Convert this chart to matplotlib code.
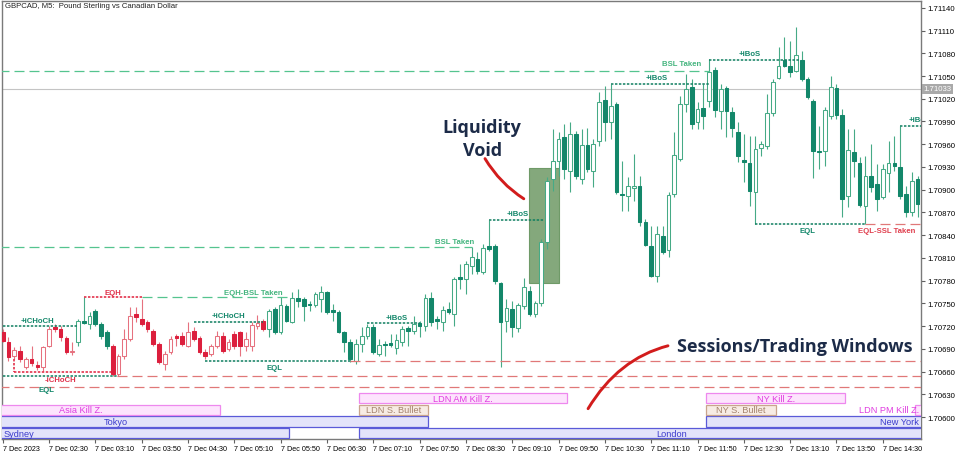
import numpy as np
import matplotlib.pyplot as plt
from matplotlib.patches import Rectangle, PathPatch
from matplotlib.path import Path
from matplotlib.transforms import blended_transform_factory

plt.rcParams['font.family'] = ['Liberation Sans', 'DejaVu Sans']

# GBPCAD M5 candles, 7 Dec 2023 from 01:50
opens = [1.70712, 1.70699, 1.70680, 1.70687, 1.70666, 1.70677, 1.70669, 1.70666, 1.70694, 1.70719,
         1.70716, 1.70704, 1.70686, 1.70699, 1.70727, 1.70723, 1.70740, 1.70723, 1.70712, 1.70694,
         1.70657, 1.70680, 1.70703, 1.70736, 1.70729, 1.70725, 1.70714, 1.70696, 1.70670, 1.70686,
         1.70707, 1.70707, 1.70694, 1.70714, 1.70704, 1.70686, 1.70683, 1.70694, 1.70707, 1.70690,
         1.70710, 1.70712, 1.70694, 1.70694, 1.70720, 1.70727, 1.70716, 1.70743, 1.70712, 1.70747,
         1.70725, 1.70757, 1.70756, 1.70749, 1.70748, 1.70756, 1.70765, 1.70741, 1.70739, 1.70712,
         1.70699, 1.70674, 1.70696, 1.70707, 1.70719, 1.70683, 1.70696, 1.70698, 1.70691, 1.70699,
         1.70717, 1.70714, 1.70724, 1.70720, 1.70757, 1.70729, 1.70725, 1.70743, 1.70736, 1.70785,
         1.70782, 1.70799, 1.70809, 1.70791, 1.70826, 1.70826, 1.70777, 1.70727, 1.70743, 1.70717,
         1.70747, 1.70766, 1.70736, 1.70750, 1.70831, 1.70914, 1.70938, 1.70970, 1.70925, 1.70974,
         1.70914, 1.70959, 1.70925, 1.70964, 1.71018, 1.70989, 1.71013, 1.70894, 1.70892, 1.70902,
         1.70905, 1.70857, 1.70826, 1.70786, 1.70839, 1.70820, 1.70894, 1.70941, 1.71013, 1.71036,
         1.70989, 1.71008, 1.71017, 1.71058, 1.71004, 1.71034, 1.71003, 1.70976, 1.70939, 1.70935,
         1.70897, 1.70955, 1.70958, 1.71001, 1.71047, 1.71071, 1.71063, 1.71057, 1.71071, 1.71046,
         1.71017, 1.70951, 1.70951, 1.70997, 1.71034, 1.70999, 1.70892, 1.70950, 1.70935, 1.70879,
         1.70918, 1.70908, 1.70890, 1.70922, 1.70935, 1.70930, 1.70894, 1.70871, 1.70914]
highs = [1.70716, 1.70706, 1.70692, 1.70694, 1.70679, 1.70694, 1.70674, 1.70694, 1.70720, 1.70723,
         1.70720, 1.70707, 1.70699, 1.70729, 1.70758, 1.70739, 1.70743, 1.70725, 1.70715, 1.70696,
         1.70683, 1.70716, 1.70745, 1.70745, 1.70756, 1.70728, 1.70716, 1.70699, 1.70687, 1.70707,
         1.70710, 1.70712, 1.70725, 1.70719, 1.70707, 1.70690, 1.70696, 1.70714, 1.70712, 1.70703,
         1.70714, 1.70714, 1.70712, 1.70725, 1.70735, 1.70729, 1.70743, 1.70745, 1.70758, 1.70749,
         1.70765, 1.70769, 1.70758, 1.70753, 1.70765, 1.70773, 1.70766, 1.70749, 1.70741, 1.70714,
         1.70703, 1.70703, 1.70719, 1.70723, 1.70723, 1.70703, 1.70700, 1.70710, 1.70710, 1.70720,
         1.70720, 1.70733, 1.70727, 1.70762, 1.70765, 1.70733, 1.70747, 1.70752, 1.70785, 1.70802,
         1.70806, 1.70824, 1.70818, 1.70828, 1.70860, 1.70828, 1.70778, 1.70756, 1.70753, 1.70750,
         1.70783, 1.70773, 1.70753, 1.70835, 1.70917, 1.70980, 1.70976, 1.70987, 1.70989, 1.70978,
         1.70980, 1.70981, 1.70967, 1.71029, 1.71037, 1.71040, 1.71016, 1.70938, 1.70917, 1.70947,
         1.70918, 1.70861, 1.70852, 1.70852, 1.70852, 1.70897, 1.70976, 1.71024, 1.71053, 1.71046,
         1.71016, 1.71040, 1.71073, 1.71062, 1.71040, 1.71037, 1.71009, 1.70989, 1.70974, 1.70971,
         1.70971, 1.70964, 1.71026, 1.71046, 1.71088, 1.71102, 1.71096, 1.71115, 1.71083, 1.71049,
         1.71020, 1.70984, 1.71009, 1.71050, 1.71040, 1.71007, 1.70980, 1.70980, 1.70943, 1.70945,
         1.70960, 1.70934, 1.70934, 1.70964, 1.70971, 1.70984, 1.70905, 1.70923, 1.70918]
lows = [1.70699, 1.70674, 1.70677, 1.70673, 1.70663, 1.70667, 1.70662, 1.70661, 1.70692, 1.70712,
        1.70700, 1.70683, 1.70682, 1.70694, 1.70723, 1.70716, 1.70720, 1.70703, 1.70690, 1.70654,
        1.70654, 1.70677, 1.70700, 1.70725, 1.70720, 1.70712, 1.70694, 1.70670, 1.70662, 1.70683,
        1.70694, 1.70694, 1.70692, 1.70700, 1.70683, 1.70677, 1.70680, 1.70691, 1.70684, 1.70687,
        1.70690, 1.70680, 1.70687, 1.70687, 1.70716, 1.70714, 1.70706, 1.70710, 1.70710, 1.70725,
        1.70724, 1.70745, 1.70727, 1.70740, 1.70745, 1.70739, 1.70736, 1.70727, 1.70711, 1.70686,
        1.70673, 1.70670, 1.70686, 1.70703, 1.70683, 1.70680, 1.70680, 1.70692, 1.70683, 1.70694,
        1.70694, 1.70710, 1.70706, 1.70714, 1.70720, 1.70716, 1.70714, 1.70736, 1.70720, 1.70769,
        1.70762, 1.70789, 1.70789, 1.70789, 1.70819, 1.70776, 1.70666, 1.70712, 1.70706, 1.70712,
        1.70743, 1.70733, 1.70732, 1.70747, 1.70822, 1.70898, 1.70918, 1.70914, 1.70897, 1.70914,
        1.70908, 1.70923, 1.70904, 1.70958, 1.70964, 1.70967, 1.70894, 1.70872, 1.70872, 1.70885,
        1.70852, 1.70826, 1.70785, 1.70778, 1.70815, 1.70811, 1.70890, 1.70938, 1.71003, 1.70980,
        1.70980, 1.70980, 1.71009, 1.70996, 1.70980, 1.70970, 1.70970, 1.70937, 1.70910, 1.70879,
        1.70855, 1.70945, 1.70954, 1.70997, 1.71046, 1.71062, 1.71049, 1.71055, 1.71044, 1.71020,
        1.70915, 1.70927, 1.70931, 1.70993, 1.70993, 1.70864, 1.70877, 1.70917, 1.70877, 1.70855,
        1.70897, 1.70872, 1.70888, 1.70897, 1.70925, 1.70888, 1.70864, 1.70865, 1.70864]
closes = [1.70700, 1.70679, 1.70688, 1.70677, 1.70677, 1.70671, 1.70666, 1.70692, 1.70716, 1.70716,
          1.70706, 1.70686, 1.70687, 1.70727, 1.70724, 1.70733, 1.70723, 1.70707, 1.70694, 1.70657,
          1.70680, 1.70703, 1.70733, 1.70732, 1.70723, 1.70716, 1.70696, 1.70673, 1.70683, 1.70703,
          1.70704, 1.70696, 1.70712, 1.70703, 1.70686, 1.70680, 1.70694, 1.70707, 1.70687, 1.70699,
          1.70694, 1.70694, 1.70703, 1.70721, 1.70724, 1.70716, 1.70740, 1.70712, 1.70748, 1.70727,
          1.70757, 1.70753, 1.70747, 1.70748, 1.70762, 1.70765, 1.70739, 1.70739, 1.70712, 1.70699,
          1.70677, 1.70696, 1.70707, 1.70719, 1.70686, 1.70695, 1.70695, 1.70695, 1.70702, 1.70716,
          1.70714, 1.70723, 1.70720, 1.70757, 1.70725, 1.70727, 1.70741, 1.70739, 1.70782, 1.70782,
          1.70802, 1.70811, 1.70793, 1.70823, 1.70822, 1.70780, 1.70725, 1.70744, 1.70719, 1.70748,
          1.70772, 1.70736, 1.70750, 1.70831, 1.70912, 1.70938, 1.70967, 1.70927, 1.70974, 1.70918,
          1.70959, 1.70927, 1.70960, 1.71016, 1.70989, 1.71011, 1.70897, 1.70893, 1.70905, 1.70905,
          1.70857, 1.70827, 1.70786, 1.70842, 1.70818, 1.70893, 1.70946, 1.71013, 1.71033, 1.70987,
          1.71007, 1.70997, 1.71055, 1.71005, 1.71033, 1.71004, 1.70981, 1.70945, 1.70937, 1.70898,
          1.70954, 1.70960, 1.71001, 1.71042, 1.71063, 1.71063, 1.71055, 1.71078, 1.71046, 1.71022,
          1.70951, 1.70950, 1.71005, 1.71036, 1.70999, 1.70888, 1.70952, 1.70938, 1.70880, 1.70918,
          1.70904, 1.70888, 1.70927, 1.70935, 1.70931, 1.70892, 1.70871, 1.70912, 1.70881]

first_bar_min = 110   # 01:50
bar_min = 5
red_ranges = [(0, 12), (19, 45)]   # bars drawn in the bearish colour scheme
bid = 1.71033

xtick_labels = ["7 Dec 2023", "7 Dec 02:30", "7 Dec 03:10", "7 Dec 03:50", "7 Dec 04:30",
                "7 Dec 05:10", "7 Dec 05:50", "7 Dec 06:30", "7 Dec 07:10", "7 Dec 07:50",
                "7 Dec 08:30", "7 Dec 09:10", "7 Dec 09:50", "7 Dec 10:30", "7 Dec 11:10",
                "7 Dec 11:50", "7 Dec 12:30", "7 Dec 13:10", "7 Dec 13:50", "7 Dec 14:30"]
price_ticks = [1.70600, 1.70630, 1.70660, 1.70690, 1.70720, 1.70750, 1.70780, 1.70810, 1.70840,
               1.70870, 1.70900, 1.70930, 1.70960, 1.70990, 1.71020, 1.71050, 1.71080, 1.71110, 1.71140]

# structure levels: (price, from bar, to bar, label, label bar, label offset px)
teal_dotted = [(1.70720, 0, 13, "+iCHoCH", 6, 6),
               (1.70725, 33, 45, "+iCHoCH", 39, 7),
               (1.70674, 35, 60, "EQL", 47, -7),
               (1.70724, 63, 72, "+iBoS", 68, 6),
               (1.70860, 84, 93.5, "+iBoS", 89, 7),
               (1.71040, 105, 122, "+iBoS", 113, 6),
               (1.71071, 122, 137.5, "+iBoS", 129, 7),
               (1.70855, 130, 149, "EQL", 139, -7),
               (1.70984, 155, 160, "+iBoS", 158.3, 7),
               (1.70654, -1, 19.7, "EQL", 7.6, -13)]
red_dotted = [(1.70758, 14, 24, "EQH", 19, 5),
              (1.70659, 2, 19, "-iCHoCH", 9.9, -7)]
green_dashed = [(1.70824, -1, 81, "BSL Taken", 78, 6),
                (1.71057, -1, 122, "BSL Taken", 117.2, 7),
                (1.70758, 24, 49.6, "EQH-BSL Taken", 43.2, 5)]
red_dashed = [(1.70640, -1, 160, None, 0, 0),
              (1.70654, 19.7, 160, None, 0, 0),
              (1.70674, 60, 160, None, 0, 0),
              (1.70855, 149, 160, "EQL-SSL Taken", 152.7, -7)]

# sessions: (name, start hour, end hour, kind, row)
sessions = [("Sydney", -3, 6, "session", 3),
            ("Tokyo", -1, 8, "session", 2),
            ("Asia Kill Z.", 1, 5, "kill", 1),
            ("London", 7, 16, "session", 3),
            ("LDN AM Kill Z.", 7, 10, "kill", 0),
            ("LDN S. Bullet", 7, 8, "bullet", 1),
            ("New York", 12, 21, "session", 2),
            ("NY Kill Z.", 12, 14, "kill", 0),
            ("NY S. Bullet", 12, 13, "bullet", 1),
            ("LDN PM Kill Z.", 15, 16, "kill", 1)]
row_bands = [(1.70618, 1.70632), (1.70603, 1.70616), (1.70587, 1.70601), (1.70572, 1.70585)]
session_style = {"session": ("#e3e3fa", "#5a5ad8", "#3b3bcc"),
                 "kill": ("#fde4fd", "#ee88ee", "#e03ce0"),
                 "bullet": ("#f7ece4", "#c9a48c", "#a5826b")}

void_bars = (90.9, 96.1)
void_prices = (1.70777, 1.70929)

x_min, x_max = -0.12, 158.6

fig = plt.figure(figsize=(9.6, 4.56), dpi=100)
ax = fig.add_axes([2 / 960, 16 / 456, 919 / 960, 438 / 456])
ax.set_xlim(x_min, x_max)
ax.set_ylim(1.70571, 1.71149)

# liquidity void box
ax.add_patch(Rectangle((void_bars[0], void_prices[0]), void_bars[1] - void_bars[0],
                       void_prices[1] - void_prices[0], facecolor="#84a87c",
                       edgecolor="#6f9a68", lw=0.8, zorder=2))

# candles
teal_line, teal_fill = "#46aa86", "#13876a"
red_line, red_fill = "#e6717f", "#dc1f3d"
n = len(opens)
is_red = np.zeros(n, dtype=bool)
for a, b in red_ranges:
    is_red[a:b + 1] = True
bw = 0.64
for i in range(n):
    o, h, l, c = opens[i], highs[i], lows[i], closes[i]
    lc, fc = (red_line, red_fill) if is_red[i] else (teal_line, teal_fill)
    ax.plot([i, i], [l, h], color=lc, lw=0.8, zorder=3, solid_capstyle="butt")
    lo, hi = min(o, c), max(o, c)
    hgt = max(hi - lo, 0.000015)
    if c >= o:
        ax.add_patch(Rectangle((i - bw / 2, lo), bw, hgt, facecolor="white",
                               edgecolor=lc, lw=0.75, zorder=4))
    else:
        ax.add_patch(Rectangle((i - bw / 2, lo), bw, hgt, facecolor=fc,
                               edgecolor=fc, lw=0.75, zorder=4))


def level(items, color, dashes, lw, lcolor, fs=5.6, weight="bold"):
    for lvl, s, e, lab, lx, dy in items:
        ax.plot([s, e], [lvl, lvl], color=color, lw=lw, dashes=dashes, zorder=5)
        if lab:
            ax.annotate(lab, (lx, lvl), xytext=(0, dy), textcoords="offset pixels",
                        ha="center", va="center", fontsize=fs, fontweight=weight,
                        color=lcolor, zorder=6, annotation_clip=False, clip_on=True)


level(red_dashed, "#e07878", (8, 4), 0.9, "#e0404f")
level(green_dashed, "#55c48f", (8, 4), 0.9, "#45b57f")
level(teal_dotted, "#0f7f60", (1.6, 1.0), 1.1, "#13876a")
level(red_dotted, "#e0203c", (1.6, 1.0), 1.1, "#e0304a")
# small connector down to the swing low
ax.plot([2, 2], [lows[2], red_dotted[1][0]], color="#e0203c", lw=1.1, dashes=(1.6, 1.0), zorder=5)

# bid line
ax.axhline(bid, color="#c4c4c4", lw=0.8, zorder=1)

# sessions
for name, h0, h1, kind, row in sessions:
    s = (h0 * 60 - first_bar_min) / bar_min - 0.5
    e = (h1 * 60 - first_bar_min) / bar_min - 0.5
    face, edge, tc = session_style[kind]
    y0, y1 = row_bands[row]
    ax.add_patch(Rectangle((s, y0), e - s, y1 - y0, facecolor=face, edgecolor=edge,
                           lw=0.9, zorder=6))
    mid = (s + e) / 2
    if mid < x_min:
        tx, ha = x_min + 0.3, "left"
    elif mid > x_max:
        tx, ha = x_max - 0.3, "right"
    else:
        tx, ha = mid, "center"
    ax.text(tx, (y0 + y1) / 2, name, ha=ha, va="center", fontsize=6.6, color=tc, zorder=7)

# annotations
ax.text(82.8, 1.70968, "Liquidity\nVoid", ha="center", va="center", fontsize=13,
        fontweight="bold", family="Open Sans", color="#1c2b48", linespacing=1.35, zorder=8)
ax.text(136.8, 1.70694, "Sessions/Trading Windows", ha="center", va="center", fontsize=13,
        fontweight="bold", family="Open Sans", color="#1c2b48", zorder=8)

curves = [[(83.3, 1.70941), (85.9, 1.70908), (90.0, 1.70888)],
          [(101.1, 1.70611), (106.3, 1.70677), (114.9, 1.70694)]]
for pts in curves:
    path = Path(pts, [Path.MOVETO, Path.CURVE3, Path.CURVE3])
    ax.add_patch(PathPatch(path, facecolor="none", edgecolor="#d21c1c", lw=2.1,
                           capstyle="round", zorder=8))

# axes
ax.yaxis.tick_right()
ax.set_yticks(price_ticks)
ax.set_yticklabels([f"{p:.5f}" for p in price_ticks])
ax.set_xticks(range(0, 8 * len(xtick_labels), 8))
ax.set_xticklabels(xtick_labels, ha="left")
ax.tick_params(axis="y", labelsize=5.6, length=3, pad=1.5, color="#606060")
ax.tick_params(axis="x", labelsize=5.2, length=3, pad=1.5, color="#606060")
for sp in ax.spines.values():
    sp.set_color("#7a7a7a")
    sp.set_linewidth(1.0)

trans = blended_transform_factory(ax.transAxes, ax.transData)
ax.text(1.003, bid, "1.71033", transform=trans, ha="left", va="center", fontsize=5.6,
        color="white", clip_on=False, zorder=9,
        bbox=dict(boxstyle="square,pad=0.2", fc="#a9a9a9", ec="none"))

fig.text(5 / 960, 1 - 6 / 456, "GBPCAD, M5:  Pound Sterling vs Canadian Dollar",
         fontsize=5.6, va="center", ha="left", color="#202020")

fig.savefig("out.png", dpi=100)
